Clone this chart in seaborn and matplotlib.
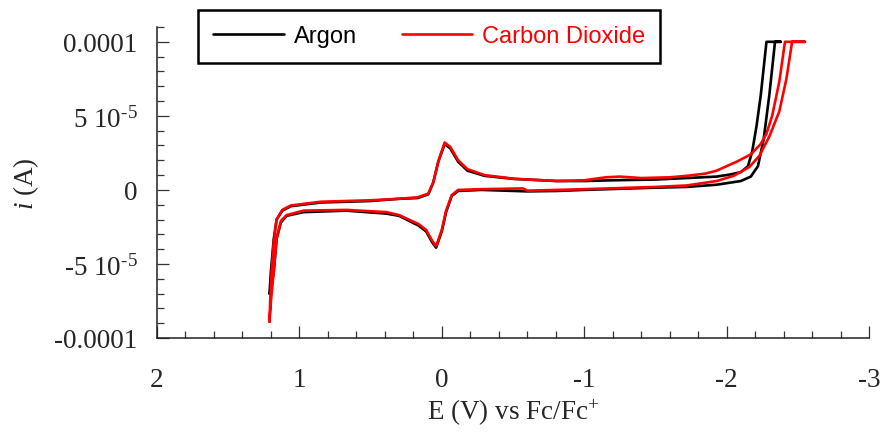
import matplotlib
matplotlib.use("Agg")
import numpy as np
import pandas as pd
import matplotlib.pyplot as plt
import seaborn as sns
from matplotlib.ticker import MultipleLocator, FixedLocator, FixedFormatter
from matplotlib.lines import Line2D

# cyclic voltammograms, potential in V vs Fc/Fc+, current in units of 1e-5 A
# path: positive vertex -> scan negative (upper branch) -> clipped top -> return (lower branch)
ar_E = [1.21, 1.20, 1.18, 1.16, 1.12, 1.06, 0.85, 0.50, 0.30, 0.17, 0.095, 0.06, 0.025,
        -0.02, -0.06, -0.115, -0.18, -0.30, -0.51, -0.81, -1.0, -1.2, -1.5, -1.72, -1.93,
        -2.03, -2.10, -2.15, -2.18, -2.21, -2.24, -2.28, -2.38,
        -2.34, -2.30, -2.26, -2.22, -2.17, -2.10, -1.93, -1.72, -1.5, -1.0, -0.81, -0.6,
        -0.28, -0.115, -0.07, -0.03, 0.0, 0.04, 0.07, 0.11, 0.165, 0.30, 0.39, 0.67, 0.97,
        1.09, 1.13, 1.16, 1.18, 1.20, 1.21]
ar_i = [-7.0, -5.5, -3.3, -2.0, -1.4, -1.1, -0.85, -0.75, -0.6, -0.55, -0.3, 0.5, 1.9,
        3.1, 2.8, 1.9, 1.3, 0.95, 0.74, 0.6, 0.6, 0.65, 0.7, 0.8, 0.9,
        1.05, 1.2, 1.6, 2.6, 4.3, 6.4, 10.0, 10.0,
        10.0, 6.4, 3.4, 1.6, 0.9, 0.6, 0.35, 0.2, 0.15, 0.0, -0.07, -0.1,
        0.0, -0.07, -0.4, -1.5, -2.8, -3.9, -3.5, -2.8, -2.4, -1.75, -1.6, -1.4, -1.5,
        -1.75, -2.2, -3.3, -5.5, -6.8, -7.0]

co2_E = [1.21, 1.205, 1.195, 1.18, 1.16, 1.12, 1.06, 0.85, 0.50, 0.30, 0.17, 0.095, 0.06,
         0.025, -0.02, -0.06, -0.115, -0.18, -0.30, -0.51, -0.81, -1.0, -1.15, -1.25, -1.4,
         -1.6, -1.72, -1.85, -1.93, -2.07, -2.17, -2.24, -2.28, -2.32, -2.37, -2.41, -2.55,
         -2.46, -2.42, -2.37, -2.30, -2.23, -2.16, -2.05, -1.93, -1.72, -1.5, -1.0, -0.81,
         -0.6, -0.57, -0.28, -0.115, -0.07, -0.03, 0.0, 0.04, 0.07, 0.11, 0.165, 0.30, 0.39,
         0.67, 0.97, 1.09, 1.13, 1.16, 1.18, 1.20, 1.21]
co2_i = [-8.9, -7.5, -5.5, -3.5, -2.0, -1.35, -1.05, -0.8, -0.7, -0.6, -0.5, -0.25, 0.5,
         1.9, 3.2, 2.9, 2.0, 1.4, 1.0, 0.75, 0.6, 0.65, 0.85, 0.9, 0.8,
         0.85, 0.95, 1.1, 1.3, 1.9, 2.4, 3.1, 3.8, 5.0, 7.3, 10.0, 10.0,
         10.0, 7.5, 5.3, 3.6, 2.3, 1.55, 0.95, 0.6, 0.3, 0.2, 0.05, 0.0,
         -0.05, 0.1, 0.05, 0.0, -0.35, -1.4, -2.7, -3.8, -3.4, -2.7, -2.3, -1.7, -1.5,
         -1.35, -1.4, -1.7, -2.1, -3.3, -5.5, -7.5, -8.9]

gases = ["Argon", "Carbon Dioxide"]
colors = {"Argon": "black", "Carbon Dioxide": "red"}

xticks = [2, 1, 0, -1, -2, -3]
xtick_labels = ["2", "1", "0", "-1", "-2", "-3"]
yticks = [-1e-4, -5e-5, 0, 5e-5, 1e-4]
ytick_labels = ["-0.0001", r"-5 10$^{\text{-5}}$", "0",
                r"5 10$^{\text{-5}}$", "0.0001"]

df = pd.concat([
    pd.DataFrame({"E": ar_E, "i": np.array(ar_i) * 1e-5, "gas": "Argon"}),
    pd.DataFrame({"E": co2_E, "i": np.array(co2_i) * 1e-5, "gas": "Carbon Dioxide"}),
], ignore_index=True)

sns.set_style("ticks")
plt.rcParams["font.family"] = ["Liberation Serif", "DejaVu Serif"]
plt.rcParams["axes.unicode_minus"] = False
plt.rcParams["mathtext.fontset"] = "custom"
plt.rcParams["mathtext.rm"] = "Liberation Serif"
plt.rcParams["mathtext.it"] = "Liberation Serif:italic"

fig = plt.figure(figsize=(8.8, 4.35), dpi=100)
ax = fig.add_axes([157 / 880, 1 - 339 / 435, 712 / 880, 311 / 435])

sns.lineplot(data=df, x="E", y="i", hue="gas", palette=colors, sort=False,
             estimator=None, lw=1.9, legend=False, ax=ax)

ax.set_xlim(2, -3)
ax.set_ylim(-1e-4, 1.1e-4)
ax.xaxis.set_major_locator(FixedLocator(xticks))
ax.xaxis.set_major_formatter(FixedFormatter(xtick_labels))
ax.xaxis.set_minor_locator(MultipleLocator(0.2))
ax.yaxis.set_major_locator(FixedLocator(yticks))
ax.yaxis.set_major_formatter(FixedFormatter(ytick_labels))
ax.yaxis.set_minor_locator(MultipleLocator(1e-5))

for side in ["top", "right"]:
    ax.spines[side].set_visible(False)
for side in ["left", "bottom"]:
    ax.spines[side].set_linewidth(1.1)
    ax.spines[side].set_color("#222222")

ax.tick_params(which="major", direction="in", length=8.6, width=0.9, color="#333333",
               labelsize=19.5)
ax.tick_params(which="minor", direction="in", length=5, width=0.9, color="#333333")
ax.tick_params(axis="x", which="major", pad=21)
ax.tick_params(axis="y", which="major", pad=14)

ax.set_xlabel(r"E (V) vs Fc/Fc$^{\text{+}}$", fontsize=19.5)
ax.set_ylabel(r"$i$ (A)", fontsize=19.5)
ax.xaxis.set_label_coords(0.5, -0.19)
ax.yaxis.set_label_coords(-0.163, 0.5)

handles = [Line2D([], [], color=colors[g], lw=1.9) for g in gases]
leg = ax.legend(handles, gases, ncol=2, loc="upper left",
                bbox_to_anchor=(198 / 880, 1 - 11 / 435), bbox_transform=fig.transFigure,
                borderaxespad=0, frameon=True, fancybox=False, framealpha=1,
                edgecolor="black", handlelength=3.0, handletextpad=0.4,
                columnspacing=1.9, borderpad=0.65,
                prop={"family": "Liberation Sans", "size": 17})
leg.get_frame().set_linewidth(1.8)
for txt, g in zip(leg.get_texts(), gases):
    txt.set_color(colors[g])

fig.savefig("out.png", dpi=100)
